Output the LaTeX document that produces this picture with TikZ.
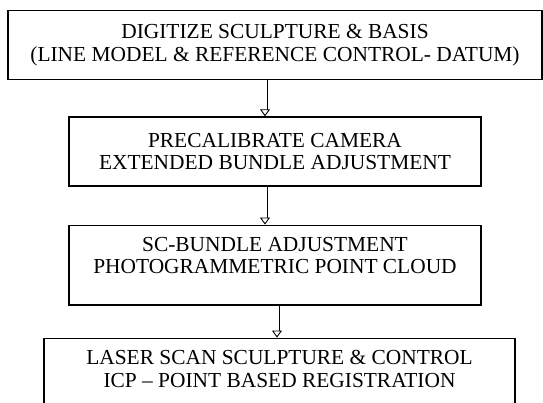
\documentclass[tikz,border=0pt]{standalone}
\usepackage{fontspec}
\setmainfont{Liberation Serif}
\usetikzlibrary{positioning,arrows.meta}
\begin{document}
\begin{tikzpicture}[x=1pt,y=1pt]
	\tikzstyle{stage} = [draw,rectangle,line width=1.3pt,align=center,inner xsep=0pt,inner ysep=12pt,font=\fontsize{21.4}{22.5}\selectfont]
	\tikzstyle{hollow} = [double,double distance=3.2pt,line width=0.9pt,-{Triangle[open,width=10pt,length=7pt,line width=0.9pt]}]
	\useasboundingbox (0,0) rectangle (543,-403);
	\clip (0,0) rectangle (543,-403);
	\node (digitize) [stage,anchor=north,minimum width=534pt,minimum height=69pt] at (275,-10) {DIGITIZE SCULPTURE \& BASIS\\(LINE MODEL \& REFERENCE CONTROL- DATUM)};
	\node (precal) [stage,below=36pt of digitize,minimum width=412pt,minimum height=69pt] {PRECALIBRATE CAMERA\\EXTENDED BUNDLE ADJUSTMENT};
	\node (scbundle) [stage,below=38pt of precal,minimum width=412pt,text depth=19pt] {SC-BUNDLE ADJUSTMENT\\PHOTOGRAMMETRIC POINT CLOUD};
	\node (laser) [stage,below=32pt of scbundle,xshift=4.5pt,minimum width=471pt,text depth=40pt,line width=1.6pt] {LASER SCAN SCULPTURE \& CONTROL\\ICP -- POINT BASED REGISTRATION};

	\draw[hollow] ([xshift=-10pt]digitize.south) -- ([xshift=-10pt]digitize.south |- precal.north);
	\draw[hollow] ([xshift=-10pt]precal.south) -- ([xshift=-10pt]precal.south |- scbundle.north);
	\draw[hollow] ([xshift=2pt]scbundle.south) -- ([xshift=2pt]scbundle.south |- laser.north);
\end{tikzpicture}
\end{document}
